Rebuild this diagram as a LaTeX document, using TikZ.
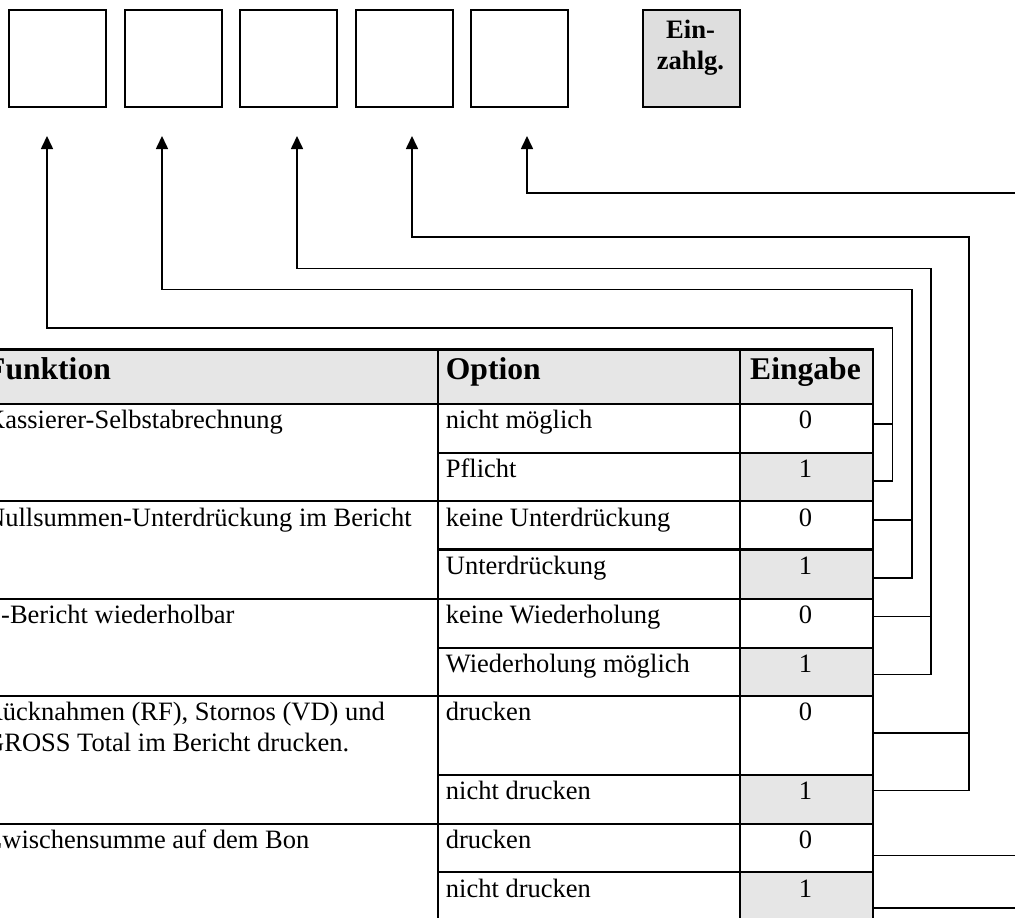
\documentclass[tikz,border=0pt]{standalone}
\usepackage{fontspec}
\setmainfont{Liberation Serif}
\usepackage{xcolor}
\usetikzlibrary{positioning, arrows.meta}
\definecolor{headgray}{HTML}{E6E6E6}
\definecolor{keygray}{HTML}{DEDEDE}
\tikzset{
  keybox/.style={draw, line width=1.8pt, minimum width=97pt, minimum height=97pt, inner sep=0pt, anchor=north west},
  tabcell/.style={draw, line width=2.2pt, inner sep=0pt, anchor=north west},
  bodytext/.style={font=\fontsize{26.5}{31.7}\selectfont, inner sep=0pt, anchor=base west},
  headtext/.style={font=\fontsize{31.6}{36}\selectfont\bfseries, inner sep=0pt, anchor=base west},
  digit/.style={font=\fontsize{26.5}{31.7}\selectfont, inner sep=0pt, anchor=base},
  wire/.style={line width=1.6pt},
  pfeil/.style={-{Triangle[width=12pt,length=13pt]}}
}

\begin{document}
\begin{tikzpicture}[x=1pt, y=-1pt]
\useasboundingbox (0,0) rectangle (1015,918);
\clip (0,0) rectangle (1015,918);

% Tasten
\node[keybox] (k1) at (8,9) {};
\node[keybox] (k2) at (124,9) {};
\node[keybox] (k3) at (239,9) {};
\node[keybox] (k4) at (355,9) {};
\node[keybox] (k5) at (470,9) {};
\node[keybox, fill=keygray] (ez) at (642,9) {};
\node[font=\fontsize{26.6}{31}\selectfont\bfseries, align=center, anchor=north, inner sep=0pt] (eztext) at (690.5,19.5) {Ein-\\zahlg.};

\coordinate (t1) at (47,136);
\coordinate (t2) at (162,136);
\coordinate (t3) at (297,136);
\coordinate (t4) at (412,136);
\coordinate (t5) at (527,136);
\coordinate (out5) at (1030,192.7);

% Tabelle
\node[tabcell, fill=headgray, minimum width=467pt, minimum height=54.4pt] (hf) at (-30,348.3) {};
\node[tabcell, fill=headgray, minimum width=302pt, minimum height=54.4pt] (ho) at (437,348.3) {};
\node[tabcell, fill=headgray, minimum width=133pt, minimum height=54.4pt] (he) at (739,348.3) {};
\foreach \i/\ya/\yb/\yc in {1/402.7/451.7/500, 2/500/548.3/597.7, 3/597.7/646.7/695, 4/695/773.7/822.7, 5/822.7/871/935} {
  \node[tabcell, minimum width=467pt, minimum height={\yc-\ya}] (f\i) at (-30,\ya) {};
  \node[tabcell, minimum width=302pt, minimum height={\yb-\ya}] (opt\i) at (437,\ya) {};
  \node[tabcell, minimum width=302pt, minimum height={\yc-\yb}] (alt\i) at (437,\yb) {};
  \node[tabcell, minimum width=133pt, minimum height={\yb-\ya}] (null\i) at (739,\ya) {};
  \node[tabcell, fill=headgray, minimum width=133pt, minimum height={\yc-\yb}] (eins\i) at (739,\yb) {};
}

\node[headtext] (tfunk) at (-14,379) {Funktion};
\node[headtext] (topt) at (445.7,379) {Option};
\node[headtext, anchor=base] (tein) at (805.5,379) {Eingabe};

\node[bodytext] (tf1) at (-14,428.7) {Kassierer-Selbstabrechnung};
\node[bodytext] (tf2) at (-14,526) {Nullsummen-Unterdrückung im Bericht};
\node[bodytext] (tf3) at (1,623.7) {-Bericht wiederholbar};
\node[bodytext, anchor=north west, align=left] (tf4) at (-15,701.7) {Rücknahmen (RF), Stornos (VD) und\\GROSS Total im Bericht drucken.};
\node[bodytext] (tf5) at (-14,848.7) {Zwischensumme auf dem Bon};

\node[bodytext] (to1a) at (445.7,428.7) {nicht möglich};
\node[bodytext] (to1b) at (445.7,477.7) {Pflicht};
\node[bodytext] (to2a) at (445.7,526) {keine Unterdrückung};
\node[bodytext] (to2b) at (445.7,574.3) {Unterdrückung};
\node[bodytext] (to3a) at (445.7,623.7) {keine Wiederholung};
\node[bodytext] (to3b) at (445.7,672.7) {Wiederholung möglich};
\node[bodytext] (to4a) at (445.7,720) {drucken};
\node[bodytext] (to4b) at (445.7,799.7) {nicht drucken};
\node[bodytext] (to5a) at (445.7,848.7) {drucken};
\node[bodytext] (to5b) at (445.7,897) {nicht drucken};

\node[digit] (d1a) at (805.5,428.7) {0};
\node[digit] (d1b) at (805.5,477.7) {1};
\node[digit] (d2a) at (805.5,526) {0};
\node[digit] (d2b) at (805.5,574.3) {1};
\node[digit] (d3a) at (805.5,623.7) {0};
\node[digit] (d3b) at (805.5,672.7) {1};
\node[digit] (d4a) at (805.5,720) {0};
\node[digit] (d4b) at (805.5,799.7) {1};
\node[digit] (d5a) at (805.5,848.7) {0};
\node[digit] (d5b) at (805.5,897) {1};

% Verbindungen
\draw[wire, pfeil] ([yshift=4.5pt]null1.east) -| (892.3,327.7) -| (t1);
\draw[wire] ([yshift=-4.15pt]eins1.east) -| (892.3,422.7);
\draw[wire, pfeil] ([yshift=5.15pt]null2.east) -| (911.7,289.3) -| (t2);
\draw[wire] ([yshift=-3.7pt]eins2.east) -| (911.7,519);
\draw[wire, pfeil] ([yshift=6.9pt]null3.east) -| (930.7,268.3) -| (t3);
\draw[wire] ([yshift=-2.45pt]eins3.east) -| (930.7,615.3);
\draw[wire, pfeil] ([yshift=2.65pt]null4.east) -| (969,236.7) -| (t4);
\draw[wire] ([yshift=8.9pt]eins4.east) -| (969,731.7);
\draw[wire, pfeil] (out5) -| (t5);
\draw[wire] ([yshift=-7.45pt]null5.east) -- ++(170,0);
\draw[wire] ([yshift=-4pt]eins5.east) -- ++(170,0);
\end{tikzpicture}
\end{document}
